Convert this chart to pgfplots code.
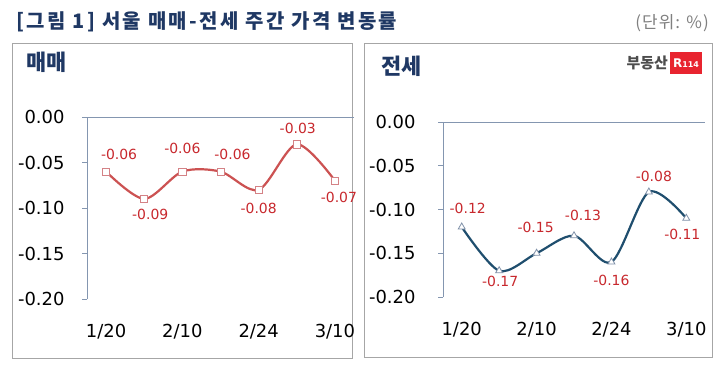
\documentclass[border=0pt]{standalone}
\usepackage{pgfplots}
\pgfplotsset{compat=1.18}
\usepackage{pgfplotstable}
\usepackage{fontspec}
\setmainfont{DejaVu Sans}
\newfontfamily\kr{Noto Sans CJK KR}
\newfontfamily\krs[LetterSpace=12]{Noto Sans CJK KR}
\newfontfamily\krg[LetterSpace=6]{Noto Sans CJK KR}
\definecolor{navy}{HTML}{1F3864}
\definecolor{axcol}{HTML}{8496B0}
\definecolor{redline}{HTML}{CC5252}
\definecolor{redmark}{HTML}{D48286}
\definecolor{redlab}{HTML}{C8282D}
\definecolor{blueline}{HTML}{1F4E6E}
\definecolor{bluemark}{HTML}{7F90A8}
\definecolor{framecol}{HTML}{A6A6A6}
\definecolor{logored}{HTML}{E8242F}

\pgfplotstableread{
x y dx dy lab
0 -0.06 13 17 -0.06
1 -0.09 6 -16 -0.09
2 -0.06 0 23 -0.06
3 -0.06 12 17 -0.06
4 -0.08 0 -19 -0.08
5 -0.03 1 16 -0.03
6 -0.07 4 -17 -0.07
}\maedata

\pgfplotstableread{
x y dx dy lab
0 -0.12 6 19 -0.12
1 -0.17 1 -11 -0.17
2 -0.15 -1 26 -0.15
3 -0.13 9 20 -0.13
4 -0.16 0 -18 -0.16
5 -0.08 5 16 -0.08
6 -0.11 -4 -16 -0.11
}\jeondata

\pgfplotsset{panel/.style={
  scale only axis, anchor=south west,
  xmin=-0.5, xmax=6.5, ymin=-0.2, ymax=0,
  axis lines*=left, clip=false,
  x axis line style={draw=none},
  y axis line style={draw=axcol, line width=0.8bp},
  xtick={0,2,4,6}, xticklabels={1/20,2/10,2/24,3/10},
  xtick style={draw=none},
  ytick={-0.2,-0.15,-0.1,-0.05,0},
  yticklabels={-0.20,-0.15,-0.10,-0.05,0.00},
  ytick style={draw=axcol, line width=0.8bp},
  tick align=outside, major tick length=5bp,
  ticklabel style={font=\fontsize{18}{20}\selectfont, text=black},
  xticklabel style={anchor=center, yshift=-28bp},
  point meta=explicit symbolic,
  nodes near coords,
  visualization depends on={\thisrow{dx}\as\dx},
  visualization depends on={\thisrow{dy}\as\dy},
  nodes near coords style={font=\fontsize{14}{16}\selectfont, text=redlab, anchor=center, xshift={\dx*1bp}, yshift={\dy*1bp}, inner sep=0pt},
}}

\begin{document}
\begin{tikzpicture}[x=1bp,y=1bp]
\path[use as bounding box] (0,0) rectangle (720,364);
\fill[white] (0,0) rectangle (720,364);
% frames
\draw[framecol, line width=0.9bp] (12,321) rectangle (352,6);
\draw[framecol, line width=0.9bp] (364,321) rectangle (712,7);
% titles
\node[anchor=base west, inner sep=0pt, text=navy] at (16,336) {\krs\bfseries\fontsize{20}{22}\selectfont [그림 1] 서울 매매-전세 주간 가격 변동률};
\node[anchor=east, inner sep=0pt, text=black!50] at (709,341) {\krg\fontsize{17}{19}\selectfont (단위: \%)};
\node[anchor=west, inner sep=0pt, text=navy] at (26,302) {\kr\bfseries\fontsize{22}{24}\selectfont 매매};
\node[anchor=west, inner sep=0pt, text=navy] at (381,298) {\kr\bfseries\fontsize{22}{24}\selectfont 전세};
% logo
\node[anchor=east, inner sep=0pt, text=black!70] at (668,301) {\kr\bfseries\fontsize{15}{16}\selectfont 부동산};
\fill[logored] (670,312) rectangle (702,290);
\node[inner sep=0pt, text=white] at (686,301) {\bfseries\fontsize{12}{13}\selectfont R\fontsize{8}{9}\selectfont 114};

\begin{axis}[panel, at={(87bp,65bp)}, width=267bp, height=182bp,
  yticklabel style={xshift=-14bp}]
\draw[axcol, line width=0.8bp] (rel axis cs:0,1) -- (rel axis cs:1,1);
\addplot[redline, line width=2.2bp, smooth, tension=0.5, mark=square*, mark size=3.6bp,
  mark options={fill=white, draw=redmark, line width=0.8bp}]
  table[x=x, y=y, meta=lab]{\maedata};
\end{axis}

\begin{axis}[panel, at={(443bp,67bp)}, width=262bp, height=175bp,
  yticklabel style={xshift=-19bp}]
\draw[axcol, line width=0.8bp] (rel axis cs:0,1) -- (rel axis cs:1,1);
\addplot[blueline, line width=2.2bp, smooth, tension=0.5, mark=triangle*, mark size=4bp,
  mark options={fill=white, draw=bluemark, line width=0.8bp}]
  table[x=x, y=y, meta=lab]{\jeondata};
\end{axis}
\end{tikzpicture}
\end{document}
